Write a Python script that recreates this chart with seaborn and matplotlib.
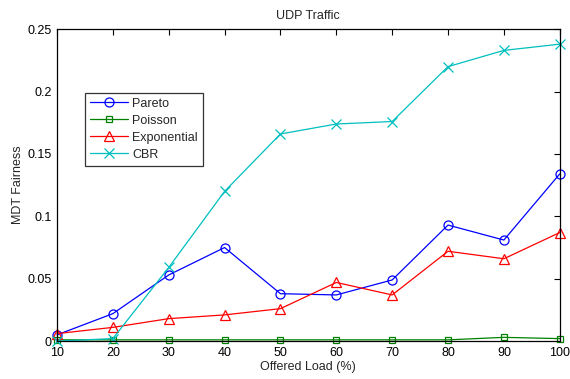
import matplotlib
matplotlib.use("Agg")
import matplotlib.pyplot as plt
import seaborn as sns
import pandas as pd

load = [10, 20, 30, 40, 50, 60, 70, 80, 90, 100]
pareto = [0.005, 0.022, 0.053, 0.075, 0.038, 0.037, 0.049, 0.093, 0.081, 0.134]
poisson = [0.001, 0.001, 0.001, 0.001, 0.001, 0.001, 0.001, 0.001, 0.003, 0.002]
exponential = [0.006, 0.011, 0.018, 0.021, 0.026, 0.047, 0.037, 0.072, 0.066, 0.087]
cbr = [0.0, 0.002, 0.059, 0.120, 0.166, 0.174, 0.176, 0.220, 0.233, 0.238]

series = {"Pareto": pareto, "Poisson": poisson, "Exponential": exponential, "CBR": cbr}
colors = {"Pareto": "#0000ff", "Poisson": "#008000", "Exponential": "#ff0000", "CBR": "#00bfbf"}
markers = {"Pareto": "o", "Poisson": "s", "Exponential": "^", "CBR": "x"}
sizes = {"Pareto": 6.5, "Poisson": 4.5, "Exponential": 7, "CBR": 7}

sns.set_style("white")
plt.rcParams["font.family"] = ["Liberation Sans", "DejaVu Sans"]
plt.rcParams["font.size"] = 9

fig = plt.figure(figsize=(5.7, 3.79), dpi=100)
ax = fig.add_axes([0.1, 0.1, 0.882, 0.823])

for name, vals in series.items():
    df = pd.DataFrame({"load": load, "fairness": vals})
    sns.lineplot(
        data=df, x="load", y="fairness", ax=ax, label=name,
        color=colors[name], marker=markers[name], markersize=sizes[name],
        markerfacecolor="none", markeredgecolor=colors[name], markeredgewidth=0.9,
        linewidth=0.9, clip_on=False,
    )

ax.set_xlim(10, 100)
ax.set_ylim(0, 0.25)
ax.set_xticks(load)
ax.set_yticks([0, 0.05, 0.1, 0.15, 0.2, 0.25])
ax.set_yticklabels(["0", "0.05", "0.1", "0.15", "0.2", "0.25"])
ax.tick_params(direction="in", length=4, width=0.8, top=True, right=True, labelsize=9, pad=4, colors="black")
for s in ax.spines.values():
    s.set_visible(True)
    s.set_color("black")
    s.set_linewidth(0.9)

ax.set_xlabel("Offered Load (%)", fontsize=9, labelpad=2)
ax.set_ylabel("MDT Fairness", fontsize=9, labelpad=2)
ax.set_title("UDP Traffic", fontsize=9, pad=7)

leg = ax.legend(loc="upper left", bbox_to_anchor=(0.056, 0.797), frameon=True, fancybox=False,
                edgecolor="black", fontsize=9, handlelength=3.0, borderpad=0.4,
                labelspacing=0.4, handletextpad=0.35, borderaxespad=0)
leg.get_frame().set_linewidth(0.9)

fig.savefig("out.png", dpi=100)
